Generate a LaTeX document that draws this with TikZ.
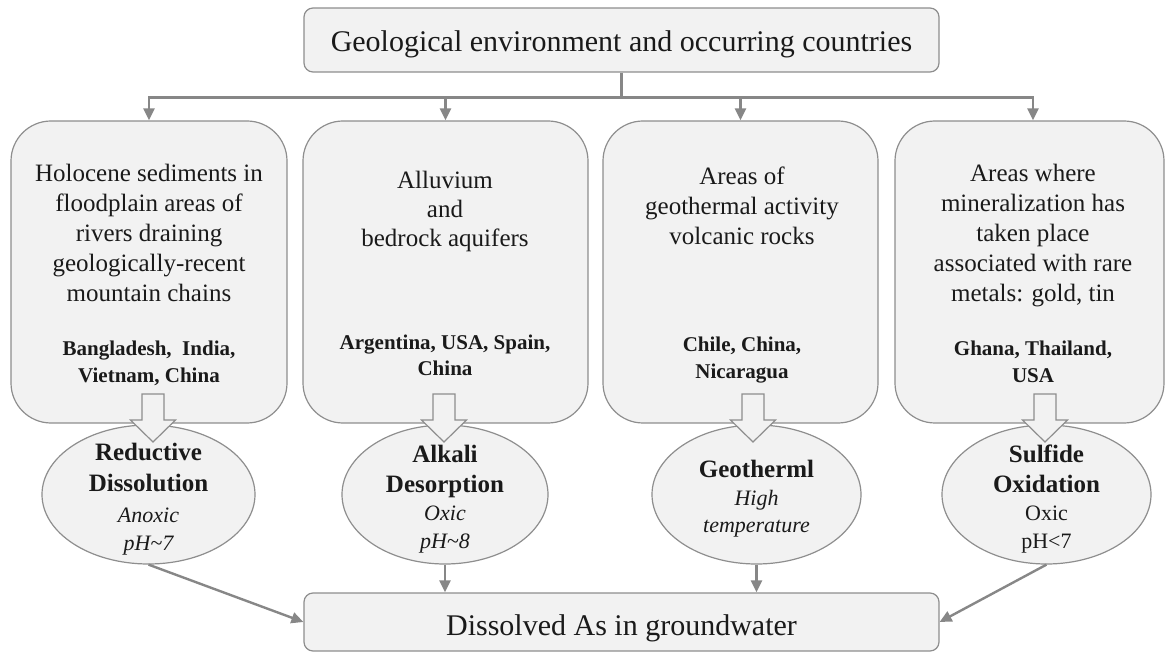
\documentclass[tikz,border=0pt]{standalone}
\usepackage{fontspec}
\setmainfont{Liberation Serif}
\usetikzlibrary{arrows.meta,shapes.geometric,calc}
\definecolor{boxfill}{HTML}{F2F2F2}
\definecolor{boxline}{HTML}{8E8E8E}
\definecolor{arr}{HTML}{878787}
\definecolor{ink}{HTML}{1A1A1A}
\newcommand\blockarr[1]{%
  \draw[blk] (#1-11,394) -- (#1+11,394) -- (#1+11,420) -- (#1+22.5,420) -- (#1,442) -- (#1-22.5,420) -- (#1-11,420) -- cycle;}
\newcommand\smallit[1]{{\normalfont\fontsize{22}{28}\selectfont\itshape #1}}
\newcommand\smallrm[1]{{\normalfont\fontsize{22}{28}\selectfont #1}}
\begin{document}
\begin{tikzpicture}[x=1pt,y=-1pt,
  box/.style={draw=boxline, fill=boxfill, line width=1.2pt, rounded corners=9pt, inner sep=0pt, text=ink,
    font=\fontsize{30}{36}\selectfont},
  envbox/.style={draw=boxline, fill=boxfill, line width=1.2pt, rounded corners=40pt, inner sep=0pt},
  proc/.style={ellipse, draw=boxline, fill=boxfill, line width=1.2pt, inner sep=0pt, minimum height=139pt},
  conn/.style={draw=arr, line width=2.4pt, -{Triangle[length=12pt,width=11pt]}},
  plainline/.style={draw=arr, line width=2.4pt},
  blk/.style={draw=boxline, fill=boxfill, line width=1.2pt, line join=miter},
  envtxt/.style={font=\fontsize{25}{30}\selectfont, text=ink, align=center, inner sep=0pt, anchor=base},
  ctytxt/.style={font=\fontsize{21}{26.5}\selectfont\bfseries, text=ink, align=center, inner sep=0pt, anchor=base},
  proctxt/.style={font=\fontsize{25}{31}\selectfont\bfseries, text=ink, align=center, inner sep=0pt, anchor=base},
]
\useasboundingbox (0,0) rectangle (1165,652);

% top and bottom boxes
\node[box, minimum width=635pt, minimum height=64pt, text height=24pt, text depth=0pt] (top) at (621.5,40)
  {Geological environment and occurring countries};
\node[box, minimum width=635pt, minimum height=58pt, text height=26pt, text depth=0pt] (bot) at (621.5,622)
  {Dissolved As in groundwater};

% environment boxes
\node[envbox, minimum width=276pt, minimum height=302pt] (b1) at (149,272) {};
\node[envbox, minimum width=285pt, minimum height=302pt] (b2) at (445.5,272) {};
\node[envbox, minimum width=275pt, minimum height=302pt] (b3) at (740.5,272) {};
\node[envbox, minimum width=269pt, minimum height=302pt] (b4) at (1029.5,272) {};

% (anchor base = baseline of the last line)
\node[envtxt] (t1) at (149,302) {Holocene sediments in\\floodplain areas of\\rivers draining\\geologically-recent\\mountain chains};
\node[envtxt] (t2) at (445,247) {Alluvium\\[-1pt]and\\[-1pt]bedrock aquifers};
\node[envtxt] (t3) at (742,245) {Areas of\\geothermal activity\\volcanic rocks};
\node[envtxt] (t4) at (1033,302) {Areas where\\mineralization has\\taken place\\associated with rare\\metals: gold, tin};

\node[ctytxt] (c1) at (149,382) {Bangladesh,\ \ India,\\Vietnam, China};
\node[ctytxt] (c2) at (445,376) {Argentina, USA, Spain,\\China};
\node[ctytxt] (c3) at (742,378) {Chile, China,\\Nicaragua};
\node[ctytxt] (c4) at (1033,382) {Ghana, Thailand,\\USA};

% process ellipses
\node[proc, minimum width=213pt] (e1) at (148.5,494.5) {};
\node[proc, minimum width=206pt] (e2) at (445,494.5) {};
\node[proc, minimum width=209pt] (e3) at (756.5,494.5) {};
\node[proc, minimum width=209pt] (e4) at (1046.5,494.5) {};

\node[proctxt] (p1) at (148.5,550) {Reductive\\Dissolution\\\smallit{Anoxic}\\[-3pt]\smallit{pH\string~7}};
\node[proctxt] (p2) at (445,548) {Alkali\\[-1pt]Desorption\\[-3pt]\smallit{Oxic}\\[-3pt]\smallit{pH\string~8}};
\node[proctxt] (p3) at (756.5,532) {Geotherml\\[-3pt]\smallit{High}\\[-4pt]\smallit{temperature}};
\node[proctxt] (p4) at (1046.5,548) {Sulfide\\[-1pt]Oxidation\\[-3pt]\smallrm{Oxic}\\[-3pt]\smallrm{pH<7}};

% block arrows
\blockarr{153}
\blockarr{444}
\blockarr{753}
\blockarr{1045}

% top connectors
\coordinate (hub) at ($(top.south)+(0,25)$);
\draw[plainline] (top.south) -- (hub);
\draw[conn] (hub) -| (b1.north);
\draw[conn] (hub) -| (b2.north);
\draw[conn] (hub) -| (b3.north);
\draw[conn] (hub) -| ([xshift=3.5pt]b4.north);

% bottom connectors
\draw[conn] (e1.south) -- (bot.west);
\draw[conn] (e2.south) -- (e2.south |- bot.north);
\draw[conn] (e3.south) -- (e3.south |- bot.north);
\draw[conn] (e4.south) -- (bot.east);
\end{tikzpicture}
\end{document}
